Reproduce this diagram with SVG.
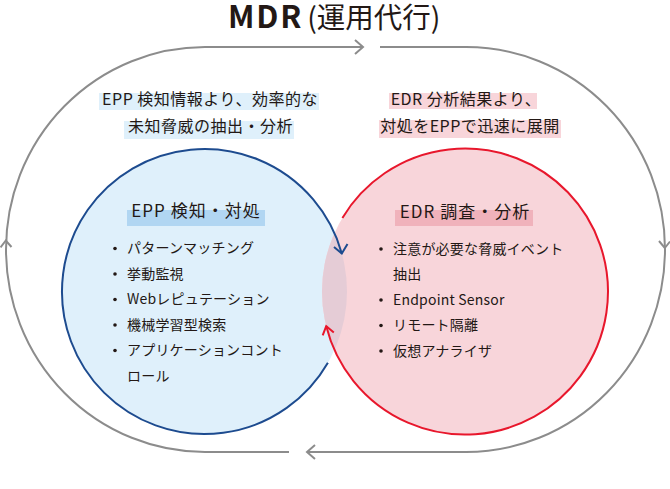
<svg xmlns="http://www.w3.org/2000/svg" width="670" height="489" viewBox="0 0 670 489">
<style>
text{font-family:"Noto Sans CJK JP","Noto Sans",sans-serif;fill:#231815}
.lbl{font-size:16px;letter-spacing:0.5px;text-anchor:middle}
.ttl{font-size:17px;letter-spacing:1px;text-anchor:middle}
.li{font-size:14px;letter-spacing:0.2px}
.gray{fill:none;stroke:#8c8c8c;stroke-width:2}
.blue{fill:none;stroke:#1d4b8f;stroke-width:2}
.red{fill:none;stroke:#e8172c;stroke-width:2}
.dot{fill:#231815}
</style>
<defs>
<clipPath id="redClip"><circle cx="465" cy="291.5" r="143"/></clipPath>
</defs>
<rect width="670" height="489" fill="#fff"/>
<g id="title">
<text x="228" y="27.5"><tspan font-size="31" font-weight="700" letter-spacing="1.8">MDR</tspan><tspan font-size="28.5" dx="4">(運用代行)</tspan></text>
</g>
<g id="connectors">
<path class="gray" d="M380,47 L466,47 A199,202.5 0 0 1 466,452 L307,452"/>
<path class="gray" d="M289,452 L205,452 A199,202.5 0 0 1 205,47 L363,47"/>
<path class="gray" d="M355,40 L363,47 L355,54"/>
<path class="gray" d="M315,445 L307,452 L315,459"/>
<path class="gray" d="M0.5,247.5 L5.8,240.5 L11.5,247"/>
<path class="gray" d="M659,241 L664.8,248 L670,241.5"/>
</g>
<g id="label-epp">
<rect x="99" y="93" width="220" height="17" fill="#dff0fb"/>
<rect x="124" y="121" width="170" height="18" fill="#dff0fb"/>
<text class="lbl" x="210" y="104.5">EPP 検知情報より、効率的な</text>
<text class="lbl" x="210.5" y="131.5">未知脅威の抽出・分析</text>
</g>
<g id="label-edr">
<rect x="389" y="93" width="148" height="16" fill="#f8d5da"/>
<rect x="379" y="120" width="182" height="18" fill="#f8d5da"/>
<text class="lbl" x="466" y="104.5">EDR 分析結果より、</text>
<text class="lbl" x="470" y="131.5">対処をEPPで迅速に展開</text>
</g>
<g id="node-epp">
<circle cx="204.5" cy="291.5" r="142.5" fill="#dff0fb"/>
</g>
<g id="node-edr">
<circle cx="465" cy="291.5" r="143" fill="#f8d5da"/>
<circle cx="204.5" cy="291.5" r="142.5" fill="#e5ccd6" clip-path="url(#redClip)"/>
</g>
<g id="node-epp-content">
<path class="blue" d="M327.9,362.8 A142.5,142.5 0 1 1 341.8,253.4"/>
<path class="blue" d="M334,247 L341.8,253.4 L347.5,244"/>
<rect x="127" y="210" width="138" height="16" fill="#b1d6f2"/>
<text class="ttl" x="196" y="217">EPP 検知・対処</text>
<circle class="dot" cx="115" cy="248.5" r="1.8"/>
<circle class="dot" cx="115" cy="274" r="1.8"/>
<circle class="dot" cx="115" cy="299.5" r="1.8"/>
<circle class="dot" cx="115" cy="325" r="1.8"/>
<circle class="dot" cx="115" cy="350.5" r="1.8"/>
<text class="li" x="127" y="253">パターンマッチング</text>
<text class="li" x="127" y="278.6">挙動監視</text>
<text class="li" x="127" y="304.2">Webレピュテーション</text>
<text class="li" x="127" y="329.8">機械学習型検索</text>
<text class="li" x="127" y="355.4">アプリケーションコント</text>
<text class="li" x="127" y="381">ロール</text>
</g>
<g id="node-edr-content">
<path class="red" d="M342.4,217.9 A143,143 0 1 1 326.2,326.1"/>
<path class="red" d="M322.7,335.4 L326.2,326.1 L333.8,332.6"/>
<rect x="395" y="210" width="138" height="16" fill="#f0b2bb"/>
<text class="ttl" x="465" y="218">EDR 調査・分析</text>
<circle class="dot" cx="381" cy="249" r="1.8"/>
<circle class="dot" cx="381" cy="300" r="1.8"/>
<circle class="dot" cx="381" cy="325.5" r="1.8"/>
<circle class="dot" cx="381" cy="351" r="1.8"/>
<text class="li" x="393" y="253.5">注意が必要な脅威イベント</text>
<text class="li" x="393" y="279">抽出</text>
<text class="li" x="393" y="304.5">Endpoint Sensor</text>
<text class="li" x="393" y="330">リモート隔離</text>
<text class="li" x="393" y="355.5">仮想アナライザ</text>
</g>
</svg>
